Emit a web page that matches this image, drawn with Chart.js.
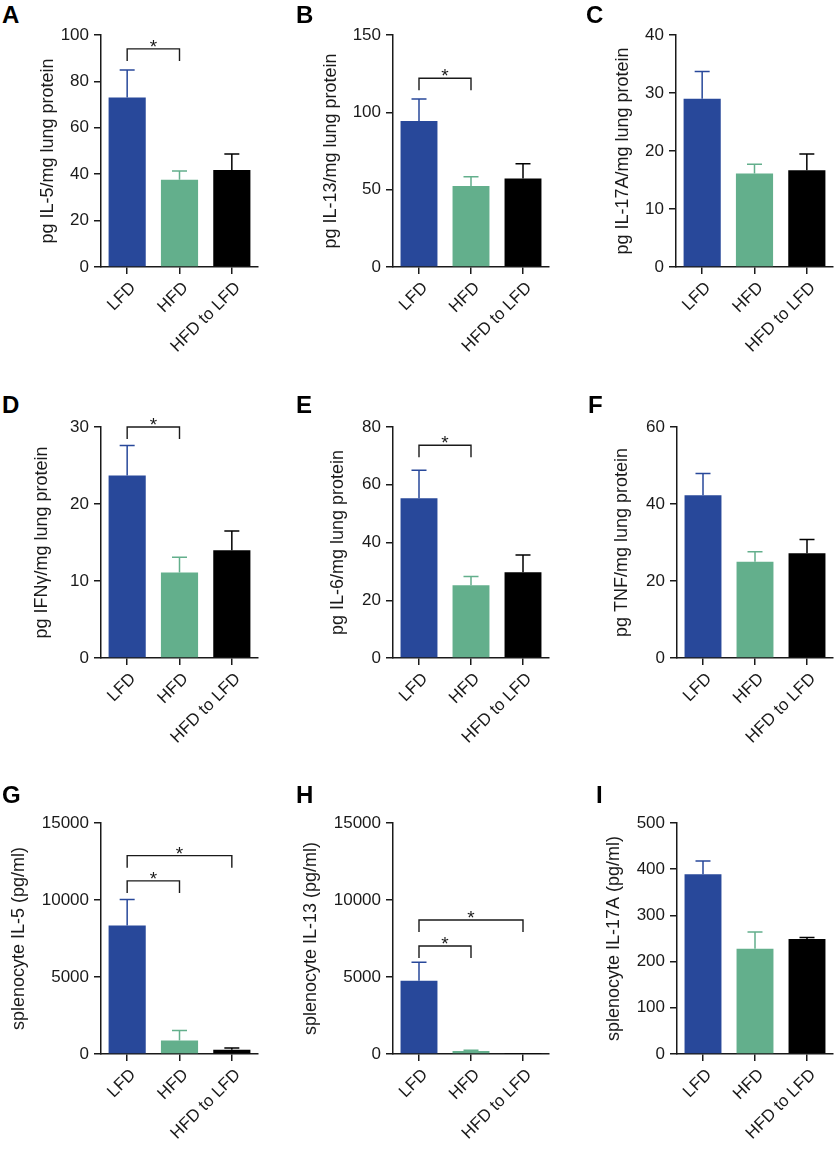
<!DOCTYPE html>
<html>
<head>
<meta charset="utf-8">
<script src="https://cdn.jsdelivr.net/npm/chart.js@4.4.0/dist/chart.umd.min.js"></script>
<style>
  body { margin: 0; width: 835px; height: 1150px; background: #fff; position: relative; overflow: hidden; font-family: "Liberation Sans", Arial, sans-serif; }
  canvas { position: absolute; }
  .letter { position: absolute; font-weight: bold; font-size: 24px; line-height: 24px; color: #000; z-index: 2; }
</style>
</head>
<body>
<div class="letter" style="left:2px;top:3px">A</div>
<div class="letter" style="left:296px;top:3px">B</div>
<div class="letter" style="left:586px;top:3px">C</div>
<div class="letter" style="left:2px;top:393px">D</div>
<div class="letter" style="left:296px;top:393px">E</div>
<div class="letter" style="left:588px;top:393px">F</div>
<div class="letter" style="left:2px;top:783px">G</div>
<div class="letter" style="left:296px;top:783px">H</div>
<div class="letter" style="left:596px;top:783px">I</div>

<script>
// Groups
const groups = ['LFD', 'HFD', 'HFD to LFD'];
const barColors = ['#28489a', '#63af8c', '#000000'];

// Lung cytokines: mean and SEM
const il5Lung = [73.1, 37.6, 41.8];
const il5LungSem = [11.8, 3.8, 6.9];
const il13Lung = [94.4, 52.4, 57.3];
const il13LungSem = [14.2, 6.0, 9.5];
const il17aLung = [29.0, 16.1, 16.7];
const il17aLungSem = [4.7, 1.6, 2.8];
const ifngLung = [23.7, 11.1, 14.0];
const ifngLungSem = [3.9, 2.0, 2.5];
const il6Lung = [55.3, 25.2, 29.7];
const il6LungSem = [9.7, 3.0, 6.0];
const tnfLung = [42.3, 25.0, 27.2];
const tnfLungSem = [5.6, 2.6, 3.6];

// Splenocyte cytokines (pg/ml)
const il5Spleen = [8350, 880, 280];
const il5SpleenSem = [1690, 650, 110];
const il13Spleen = [4750, 190, 15];
const il13SpleenSem = [1210, 50, null];
const il17aSpleen = [389, 228, 249];
const il17aSpleenSem = [29, 36, 3];

// Significance brackets: [from group, to group, bracket level]
const il5LungSig = [[0, 1, 94]];
const il13LungSig = [[0, 1, 122]];
const ifngLungSig = [[0, 1, 30]];
const il6LungSig = [[0, 1, 73.7]];
const il5SpleenSig = [[0, 2, 12880], [0, 1, 11240]];
const il13SpleenSig = [[0, 2, 8700], [0, 1, 7016]];

const panels = [
  { title: 'pg IL-5/mg lung protein', values: il5Lung, sem: il5LungSem, max: 100, step: 20, sig: il5LungSig, axisX: 101, right: 258, top: 35, bottom: 267, yw: 68 },
  { title: 'pg IL-13/mg lung protein', values: il13Lung, sem: il13LungSem, max: 150, step: 50, sig: il13LungSig, axisX: 393, right: 549, top: 35, bottom: 267, yw: 77 },
  { title: 'pg IL-17A/mg lung protein', values: il17aLung, sem: il17aLungSem, max: 40, step: 10, sig: [], axisX: 676, right: 833, top: 35, bottom: 267, yw: 68 },
  { title: 'pg IFN\u03b3/mg lung protein', values: ifngLung, sem: ifngLungSem, max: 30, step: 10, sig: ifngLungSig, axisX: 101, right: 258, top: 427, bottom: 658, yw: 74 },
  { title: 'pg IL-6/mg lung protein', values: il6Lung, sem: il6LungSem, max: 80, step: 20, sig: il6LungSig, axisX: 393, right: 549, top: 427, bottom: 658, yw: 70 },
  { title: 'pg TNF/mg lung protein', values: tnfLung, sem: tnfLungSem, max: 60, step: 20, sig: [], axisX: 677, right: 833, top: 427, bottom: 658, yw: 70 },
  { title: 'splenocyte IL-5 (pg/ml)', values: il5Spleen, sem: il5SpleenSem, max: 15000, step: 5000, sig: il5SpleenSig, axisX: 101, right: 258, top: 823, bottom: 1054, yw: 97 },
  { title: 'splenocyte IL-13 (pg/ml)', values: il13Spleen, sem: il13SpleenSem, max: 15000, step: 5000, sig: il13SpleenSig, axisX: 393, right: 549, top: 823, bottom: 1054, yw: 97 },
  { title: 'splenocyte IL-17A (pg/ml)', values: il17aSpleen, sem: il17aSpleenSem, max: 500, step: 100, sig: [], axisX: 677, right: 833, top: 823, bottom: 1054, yw: 78 }
];

const FONT = '"Liberation Sans", Arial, sans-serif';
const INK = '#1a1a1a';

function makePanel(p) {
  const padTop = 30, xh = 100, padRight = 2;
  const left = p.axisX - p.yw;
  const width = p.right + padRight - left;
  const height = padTop + (p.bottom - p.top) + xh;

  const canvas = document.createElement('canvas');
  canvas.width = width;
  canvas.height = height;
  canvas.style.left = left + 'px';
  canvas.style.top = (p.top - padTop) + 'px';
  document.body.appendChild(canvas);

  // error bars (upward only) and significance brackets
  const marks = {
    id: 'marks',
    afterDatasetsDraw(chart) {
      const ctx = chart.ctx;
      const y = chart.scales.y;
      const x = chart.scales.x;
      const meta = chart.getDatasetMeta(0);
      ctx.save();
      ctx.lineWidth = 1.5;
      meta.data.forEach((bar, i) => {
        if (p.sem[i] == null) return;
        const yTop = y.getPixelForValue(p.values[i] + p.sem[i]);
        ctx.strokeStyle = barColors[i];
        ctx.beginPath();
        ctx.moveTo(bar.x, bar.y);
        ctx.lineTo(bar.x, yTop);
        ctx.moveTo(bar.x - 7.5, yTop);
        ctx.lineTo(bar.x + 7.5, yTop);
        ctx.stroke();
      });
      ctx.strokeStyle = INK;
      ctx.lineWidth = 1.4;
      ctx.fillStyle = INK;
      ctx.font = '19px ' + FONT;
      ctx.textAlign = 'center';
      ctx.textBaseline = 'alphabetic';
      p.sig.forEach(([a, b, level]) => {
        const x1 = x.getPixelForValue(a);
        const x2 = x.getPixelForValue(b);
        const yl = y.getPixelForValue(level);
        ctx.beginPath();
        ctx.moveTo(x1, yl + 12);
        ctx.lineTo(x1, yl);
        ctx.lineTo(x2, yl);
        ctx.lineTo(x2, yl + 12);
        ctx.stroke();
        ctx.fillText('*', (x1 + x2) / 2, yl + 4);
      });
      ctx.restore();
    }
  };

  new Chart(canvas, {
    type: 'bar',
    data: {
      labels: groups,
      datasets: [{
        data: p.values,
        backgroundColor: barColors,
        borderWidth: 0,
        barPercentage: 0.71,
        categoryPercentage: 1
      }]
    },
    options: {
      responsive: false,
      animation: false,
      layout: { padding: { top: padTop, right: padRight, left: 0, bottom: 0 } },
      plugins: { legend: { display: false }, tooltip: { enabled: false } },
      scales: {
        x: {
          offset: true,
          grid: { offset: false, drawOnChartArea: false, tickLength: 7, color: INK, lineWidth: 1.5 },
          border: { color: INK, width: 1.5 },
          ticks: { color: INK, font: { size: 17, family: FONT }, maxRotation: 45, minRotation: 45, autoSkip: false, padding: 4, labelOffset: 6 },
          afterFit: s => { s.height = xh; }
        },
        y: {
          min: 0,
          max: p.max,
          grid: { drawOnChartArea: false, tickLength: 7, color: INK, lineWidth: 1.5 },
          border: { color: INK, width: 1.5 },
          ticks: { stepSize: p.step, color: INK, font: { size: 17, family: FONT }, padding: 5, callback: v => String(v) },
          title: { display: true, text: p.title, color: INK, font: { size: 18, family: FONT }, padding: { top: 4, bottom: 4 } },
          afterFit: s => { s.width = p.yw; }
        }
      }
    },
    plugins: [marks]
  });
}

panels.forEach(makePanel);
</script>
</body>
</html>
